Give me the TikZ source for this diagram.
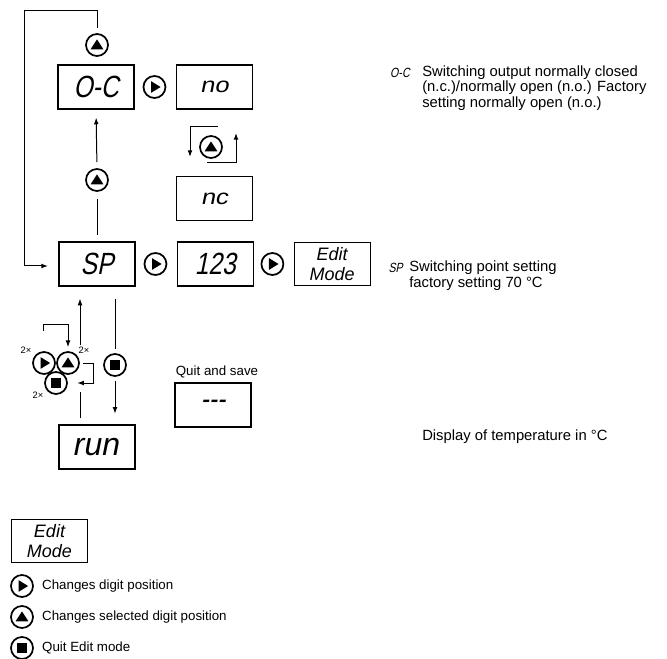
\documentclass[tikz,border=0pt]{standalone}
\usepackage{fontspec}
\setmainfont{Liberation Sans}
\newfontfamily\segfont{Liberation Sans}[FakeSlant=0.2,FakeStretch=0.8]
\newfontfamily\seglow{Liberation Sans}[FakeSlant=0.2,FakeStretch=1.2]
\usetikzlibrary{arrows.meta,positioning}
\tikzset{
  disp/.style={draw, line width=0.9pt, minimum width=57pt, minimum height=33pt,
               inner sep=0pt, font=\segfont\fontsize{23}{23}\selectfont},
  displow/.style={disp, font=\seglow\fontsize{16}{16}\selectfont},
  editbox/.style={draw, line width=0.9pt, minimum width=57pt, minimum height=32pt,
                  inner sep=0pt, align=center, font=\itshape\fontsize{13.5}{15}\selectfont},
  btn/.style={circle, draw, line width=1.3pt, minimum size=16.5pt, inner sep=0pt},
  btnright/.style={btn, path picture={\fill ([shift={(-2.6pt,4.4pt)}]path picture bounding box.center)
                   -- +(7.2pt,-4.4pt) -- +(0pt,-8.8pt) -- cycle;}},
  btnup/.style={btn, path picture={\fill ([shift={(-4.8pt,-3.2pt)}]path picture bounding box.center)
                -- +(9.6pt,0pt) -- +(4.8pt,7.4pt) -- cycle;}},
  btnstop/.style={btn, path picture={\fill ([shift={(-3.7pt,-3.7pt)}]path picture bounding box.center)
                  rectangle +(7.4pt,7.4pt);}},
  twox/.style={font=\fontsize{7}{7}\selectfont, inner sep=0pt},
  desc/.style={align=left, inner sep=0pt, font=\fontsize{11.1}{11.8}\selectfont},
  symb/.style={inner sep=0pt, font=\segfont\fontsize{10}{10}\selectfont},
  legtxt/.style={inner sep=0pt, anchor=west, font=\fontsize{10}{10}\selectfont},
  line/.style={line width=0.75pt},
  arr/.style={line, -{Latex[length=5pt,width=3.6pt]}}
}
\begin{document}
\begin{tikzpicture}[x=0.75pt, y=-0.75pt]
\useasboundingbox (0,0) rectangle (667,659);
% O-C row
\node[disp] (oc) at (96,87) {O-C};
\node[btnright, right=6pt of oc] (ocR) {};
\node[displow, right=7pt of ocR] (no) {no};
\node[displow, below=50pt of no] (nc) {nc};
\node[btnup] (togU) at (211,147) {};
\node[btnup] (ocU) at (97,45) {};
\node[btnup] (spU) at (97,180) {};
% SP row
\node[disp] (sp) at (97,264) {SP};
\node[btnright, right=6pt of sp] (spR) {};
\node[disp, right=7pt of spR] (val) {123};
\node[btnright, right=5pt of val] (valR) {};
\node[editbox, right=7pt of valR] (edit) {Edit\\Mode};
% lower part
\node[btnstop] (spS) at (115,365) {};
\node[disp, font=\itshape\fontsize{24}{24}\selectfont] (run) at (97,447) {run};
\node[btnright] (cR) at (44,363) {};
\node[btnup] (cU) at (68,363) {};
\node[btnstop] (cS) at (56,383) {};
\node[twox] (nR) at (26,350) {2×};
\node[twox] (nU) at (84,350) {2×};
\node[twox] (nS) at (38,395) {2×};
\node[font=\fontsize{10}{10}\selectfont, inner sep=0pt] (qs) at (217,372) {Quit and save};
\node[disp] (save) at (213,405) {-{}-{}-};
% descriptions
\node[symb, anchor=east] (ocSym) at (410,73) {O-C};
\node[desc, anchor=west] (ocTxt) at (422,88) {Switching output normally closed\\(n.c.)/normally open (n.o.) Factory\\setting normally open (n.o.)};
\node[symb, anchor=east] (spSym) at (403,268) {SP};
\node[desc, anchor=west] (spTxt) at (409,276) {Switching point setting\\factory setting 70 °C};
\node[desc, anchor=west] (runTxt) at (422,437) {Display of temperature in °C};
% legend
\node[editbox] (lgEdit) at (49.5,541) {Edit\\Mode};
\node[btnright] (lgR) at (22,586) {};
\node[legtxt, right=6pt of lgR] (lgRt) {Changes digit position};
\node[btnup] (lgU) at (22,617) {};
\node[legtxt, right=6pt of lgU] (lgUt) {Changes selected digit position};
\node[btnstop] (lgS) at (22,648) {};
\node[legtxt, right=6pt of lgS] (lgSt) {Quit Edit mode};
% connectors
\coordinate (loopTL) at (24,11);
\coordinate (loopEnd) at (48,266);
\draw[arr, shorten <=4pt] (ocU.north) |- (loopTL) |- (loopEnd);
\draw[arr, shorten <=4.5pt, shorten >=6pt] (spU.north) -- (oc.south);
\draw[line, shorten <=5pt, shorten >=5pt] (spU.south) -- (sp.north);
\coordinate (togA) at (218,127);
\coordinate (togB) at (190,157);
\coordinate (togC) at (207,163);
\coordinate (togD) at (236,133);
\draw[arr] (togA) -| (togB);
\draw[arr] (togC) -| (togD);
\coordinate (upFoot) at (80,345);
\coordinate (runFoot) at (80,392);
\draw[arr, shorten >=9pt] (upFoot) -- (upFoot |- sp.south);
\draw[line, shorten >=5pt] (runFoot) -- (runFoot |- run.north);
\draw[line, shorten <=9pt, shorten >=3pt] (sp.south -| spS) -- (spS.north);
\draw[arr, shorten <=3pt, shorten >=8pt] (spS.south) -- (spS |- run.north);
\coordinate (brA) at (43,331);
\draw[arr, shorten >=3pt] (brA) -- ++(0,-7) -| (cU.north);
\draw[arr, shorten <=2pt, shorten >=7pt] (cU.east) -- ++(14,0) |- (cS.east);
\end{tikzpicture}
\end{document}
